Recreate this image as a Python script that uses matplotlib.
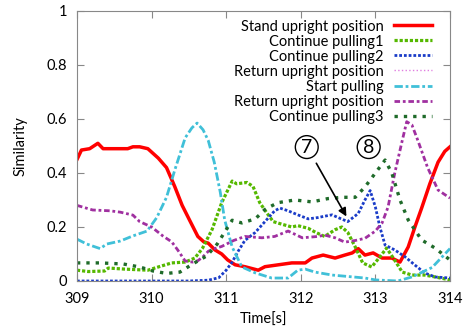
import matplotlib
matplotlib.use('Agg')
import matplotlib.pyplot as plt

plt.rcParams['font.family'] = ['Lato', 'DejaVu Sans']

# Stand upright position
red_t = [309.0, 309.06, 309.17, 309.28, 309.35, 309.55, 309.68, 309.75, 309.84, 309.95, 310.09, 310.2,
         310.31, 310.41, 310.51, 310.62, 310.7, 310.76, 310.85, 310.94, 311.02, 311.12, 311.25, 311.43,
         311.52, 311.7, 311.88, 312.06, 312.15, 312.3, 312.46, 312.59, 312.69, 312.77, 312.86, 312.97,
         313.09, 313.22, 313.33, 313.44, 313.53, 313.62, 313.73, 313.84, 313.93, 314.0]
red_y = [0.45, 0.485, 0.49, 0.51, 0.49, 0.49, 0.49, 0.497, 0.497, 0.49, 0.455, 0.42,
         0.35, 0.28, 0.225, 0.165, 0.145, 0.14, 0.115, 0.10, 0.078, 0.06, 0.053, 0.04,
         0.053, 0.06, 0.067, 0.067, 0.085, 0.096, 0.085, 0.096, 0.104, 0.12, 0.096, 0.104,
         0.085, 0.085, 0.07, 0.126, 0.2, 0.27, 0.36, 0.44, 0.48, 0.497]

# Continue pulling1
cp1_t = [309.0, 309.15, 309.37, 309.42, 309.64, 309.95, 310.09, 310.27, 310.45, 310.58, 310.68, 310.81,
         310.94, 311.08, 311.14, 311.28, 311.36, 311.45, 311.55, 311.63, 311.75, 311.88, 311.96, 312.1,
         312.2, 312.32, 312.46, 312.55, 312.63, 312.73, 312.83, 312.95, 313.06, 313.15, 313.24, 313.36,
         313.49, 313.66, 313.8, 314.0]
cp1_y = [0.04, 0.035, 0.037, 0.048, 0.044, 0.04, 0.052, 0.067, 0.07, 0.085, 0.12, 0.19,
         0.29, 0.37, 0.36, 0.365, 0.35, 0.29, 0.25, 0.22, 0.21, 0.2, 0.205, 0.195,
         0.18, 0.165, 0.19, 0.2, 0.18, 0.126, 0.067, 0.052, 0.089, 0.122, 0.085, 0.033,
         0.022, 0.022, 0.015, 0.004]

# Continue pulling2
cp2_t = [309.0, 310.5, 310.76, 310.9, 311.0, 311.08, 311.16, 311.25, 311.39, 311.52, 311.65, 311.72,
         311.83, 311.96, 312.1, 312.23, 312.32, 312.42, 312.5, 312.63, 312.77, 312.86, 312.93, 313.0,
         313.06, 313.13, 313.26, 313.4, 313.53, 313.66, 313.8, 314.0]
cp2_y = [0.0, 0.0, 0.003, 0.012, 0.04, 0.07, 0.11, 0.15, 0.18, 0.22, 0.26, 0.27,
         0.26, 0.245, 0.23, 0.235, 0.24, 0.245, 0.235, 0.22, 0.25, 0.3, 0.335, 0.274,
         0.2, 0.133, 0.115, 0.089, 0.059, 0.03, 0.015, 0.011]

# Return upright position (thin, not visible in the plot area)
rup1_t = []
rup1_y = []

# Start pulling
sp_t = [309.0, 309.13, 309.31, 309.4, 309.58, 309.75, 309.94, 310.07, 310.2, 310.31, 310.45, 310.54,
        310.61, 310.69, 310.76, 310.84, 310.92, 310.98, 311.08, 311.21, 311.39, 311.61, 311.83, 311.96,
        312.06, 312.19, 312.42, 312.86, 313.0, 313.3, 313.49, 313.76, 314.0]
sp_y = [0.155, 0.137, 0.12, 0.137, 0.148, 0.167, 0.185, 0.235, 0.31, 0.41, 0.53, 0.567,
        0.585, 0.56, 0.52, 0.44, 0.33, 0.226, 0.126, 0.052, 0.03, 0.011, 0.011, 0.04,
        0.044, 0.033, 0.022, 0.011, 0.004, 0.0, 0.015, 0.05, 0.12]

# Return upright position
rup2_t = [309.0, 309.21, 309.44, 309.58, 309.75, 309.84, 310.0, 310.15, 310.27, 310.35, 310.45, 310.55,
          310.62, 310.69, 310.76, 310.82, 310.94, 311.1, 311.25, 311.48, 311.65, 311.83, 312.02, 312.23,
          312.32, 312.46, 312.59, 312.73, 312.86, 313.0, 313.09, 313.17, 313.26, 313.36, 313.42, 313.49,
          313.57, 313.7, 313.84, 314.0]
rup2_y = [0.28, 0.263, 0.26, 0.255, 0.244, 0.22, 0.2, 0.167, 0.145, 0.115, 0.074, 0.07,
          0.075, 0.09, 0.11, 0.118, 0.128, 0.15, 0.165, 0.16, 0.165, 0.185, 0.16, 0.165,
          0.17, 0.16, 0.144, 0.15, 0.158, 0.185, 0.215, 0.274, 0.4, 0.52, 0.59, 0.578,
          0.52, 0.42, 0.337, 0.307]

# Continue pulling3
cp3_t = [309.0, 309.31, 309.62, 309.84, 310.02, 310.2, 310.38, 310.55, 310.74, 310.88, 311.0, 311.08,
         311.21, 311.39, 311.52, 311.69, 311.92, 312.15, 312.36, 312.55, 312.73, 312.86, 313.0, 313.13,
         313.22, 313.33, 313.44, 313.62, 313.8, 314.0]
cp3_y = [0.067, 0.067, 0.063, 0.052, 0.037, 0.028, 0.033, 0.063, 0.093, 0.137, 0.19, 0.225,
         0.215, 0.23, 0.265, 0.29, 0.3, 0.293, 0.305, 0.31, 0.31, 0.348, 0.4, 0.448,
         0.4, 0.3, 0.226, 0.152, 0.122, 0.078]

fig = plt.figure(figsize=(4.68, 3.28), dpi=100)
ax = fig.add_axes([0.1645, 0.1433, 0.797, 0.8232])

ax.plot(rup1_t, rup1_y, color='#e07ee0', linestyle=':', linewidth=1.0, label='Return upright position')
ax.plot(red_t, red_y, color='#ff0000', linestyle='-', linewidth=2.5, label='Stand upright position')
ax.plot(cp1_t, cp1_y, color='#55b800', linestyle=(0, (1, 0.6)), linewidth=2.3, label='Continue pulling1')
ax.plot(cp2_t, cp2_y, color='#1a3cc8', linestyle=(0, (1, 0.7)), linewidth=2.0, label='Continue pulling2')
ax.plot(sp_t, sp_y, color='#40c0d8', linestyle=(0, (3, 1, 1, 1)), linewidth=2.0, label='Start pulling')
ax.plot(rup2_t, rup2_y, color='#a030a0', linestyle=(0, (2, 1, 1, 1)), linewidth=2.0, label='Return upright position')
ax.plot(cp3_t, cp3_y, color='#1f6b2a', linestyle=(0, (1, 1.8)), linewidth=2.4, label='Continue pulling3')

# legend in the reference order: red, cp1, cp2, rup1, sp, rup2, cp3
handles, labels = ax.get_legend_handles_labels()
order = [1, 2, 3, 0, 4, 5, 6]
ax.legend([handles[i] for i in order], [labels[i] for i in order], loc='upper right',
          bbox_to_anchor=(0.967, 0.99), borderaxespad=0,
          frameon=False, markerfirst=False, fontsize=10.5, handlelength=2.6,
          labelspacing=0.07, handletextpad=0.7)

ax.set_xlim(309, 314)
ax.set_ylim(0, 1)
ax.set_xticks([309, 310, 311, 312, 313, 314])
ax.set_yticks([0, 0.2, 0.4, 0.6, 0.8, 1])
ax.set_yticklabels(['0', '0.2', '0.4', '0.6', '0.8', '1'])
ax.tick_params(direction='in', top=True, right=True, length=5, labelsize=10.5, color='#888888')
ax.tick_params(axis='x', pad=8)
ax.tick_params(axis='y', pad=7)
for s in ax.spines.values():
    s.set_color('#888888')
ax.set_xlabel('Time[s]', fontsize=10.5, labelpad=5)
ax.set_ylabel('Similarity', fontsize=10.5, labelpad=14)

# circled markers and arrow
ax.text(312.08, 0.496, '7', fontsize=14, ha='center', va='center',
        bbox=dict(boxstyle='circle,pad=0.15', fc='white', ec='black', lw=1))
ax.text(312.91, 0.496, '8', fontsize=14, ha='center', va='center',
        bbox=dict(boxstyle='circle,pad=0.15', fc='white', ec='black', lw=1))
ax.annotate('', xy=(312.63, 0.23), xytext=(312.19, 0.445),
            arrowprops=dict(arrowstyle='-|>', color='black', lw=1.2, mutation_scale=12))

fig.savefig('out.png', dpi=100)
